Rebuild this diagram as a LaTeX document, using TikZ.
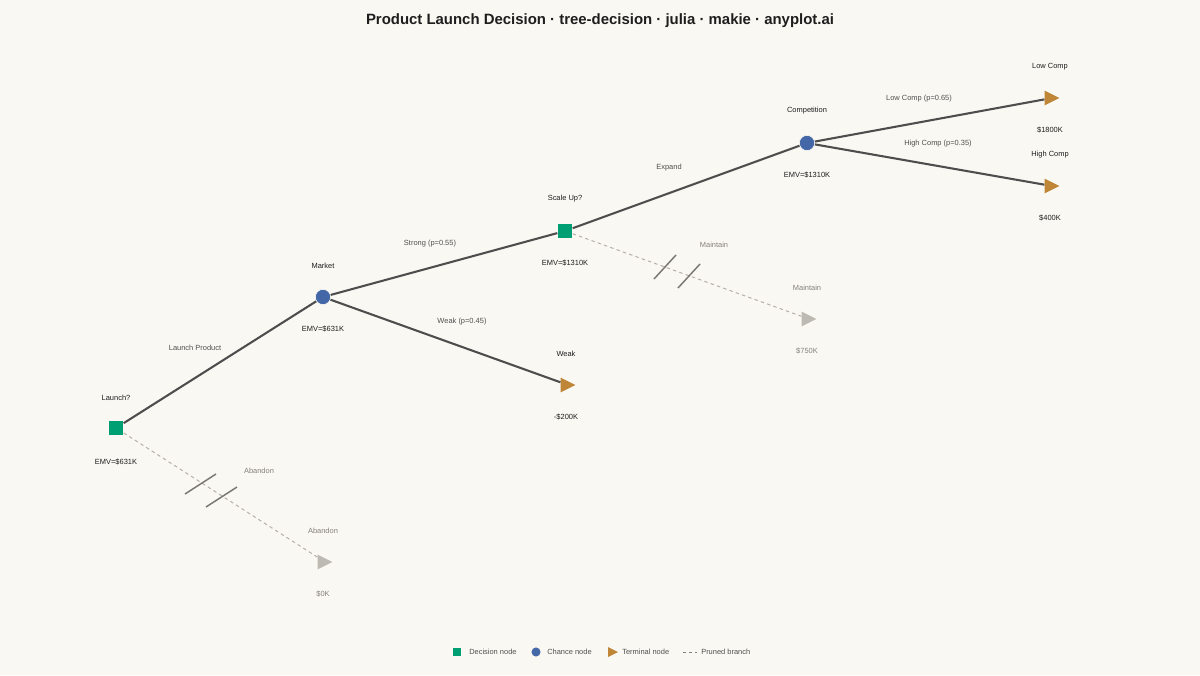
\documentclass[tikz,border=0pt]{standalone}
\usepackage{fontspec}
\setmainfont{Liberation Sans}
\usetikzlibrary{shapes.geometric}
\definecolor{bg}{HTML}{FAF8F2}
\definecolor{decg}{HTML}{009E73}
\definecolor{chb}{HTML}{4467A8}
\definecolor{term}{HTML}{BF8637}
\definecolor{edgec}{HTML}{4D4D4D}
\definecolor{prunec}{HTML}{B5B1AA}
\definecolor{prunetri}{HTML}{BDBAB3}
\definecolor{markc}{HTML}{7A7874}
\definecolor{txt}{HTML}{1E1E1E}
\definecolor{etxt}{HTML}{505050}
\definecolor{ptxt}{HTML}{85827D}
\tikzset{
  decnode/.style={rectangle, fill=decg, draw=bg, line width=0.5pt, minimum size=11, inner sep=0pt},
  chnode/.style={circle, fill=chb, draw=bg, line width=0.5pt, minimum size=11.5, inner sep=0pt},
  tri/.style={rectangle, minimum size=#1, inner sep=0pt},
  trifill/.style={path picture={\fill[#1] (path picture bounding box.north west) -- (path picture bounding box.east) -- (path picture bounding box.south west) -- cycle;}},
  termnode/.style={tri=11, trifill=term},
  prunenode/.style={tri=11, trifill=prunetri},
  lbl/.style={font=\fontsize{5.6pt}{6pt}\selectfont, text=txt, inner sep=0pt},
  elbl/.style={font=\fontsize{5.6pt}{6pt}\selectfont, text=etxt, inner sep=0pt},
  plbl/.style={font=\fontsize{5.6pt}{6pt}\selectfont, text=ptxt, inner sep=0pt},
  branch/.style={draw=edgec, line width=1.55pt},
  pruned/.style={draw=prunec, line width=0.75pt, dash pattern=on 2.6pt off 2.4pt},
  brk/.style={draw=markc, line width=1.1pt},
}
\begin{document}
\begin{tikzpicture}[x=0.75pt,y=-0.75pt]
\fill[bg] (0,0) rectangle (1200,675);
\useasboundingbox (0,0) rectangle (1200,675);
\node[font=\bfseries\fontsize{11.2pt}{13pt}\selectfont, text=txt] (title) at (600,21) {Product Launch Decision · tree-decision · julia · makie · anyplot.ai};

% nodes
\node[decnode] (launch) at (116,428) {};
\node[chnode] (market) at (323,297) {};
\node[decnode] (scale) at (565,231) {};
\node[chnode] (comp) at (807,143) {};
\node[termnode] (low) at (1052,98) {};
\node[termnode] (high) at (1052,186) {};
\node[termnode] (weak) at (568,385) {};
\node[prunenode] (maint) at (809,319) {};
\node[prunenode] (aband) at (325,562) {};

% edges
\draw[pruned] (launch) -- (aband);
\draw[pruned] (scale) -- (maint);
\draw[branch] (launch) -- (market);
\draw[branch] (market) -- (scale);
\draw[branch] (market) -- (weak);
\draw[branch] (scale) -- (comp);
\draw[branch] (comp) -- (low);
\draw[branch] (comp) -- (high);

% break marks
\coordinate (b1a) at (185,494); \coordinate (b1b) at (216,474);
\coordinate (b2a) at (206,507); \coordinate (b2b) at (237,487);
\coordinate (b3a) at (654,279); \coordinate (b3b) at (676,255);
\coordinate (b4a) at (678,288); \coordinate (b4b) at (700,264);
\draw[brk] (b1a) -- (b1b);
\draw[brk] (b2a) -- (b2b);
\draw[brk] (b3a) -- (b3b);
\draw[brk] (b4a) -- (b4b);

% node labels
\node[lbl] (l1) at (116,398) {Launch?};
\node[lbl] (l1e) at (116,462) {EMV=\$631K};
\node[lbl] (l2) at (323,266) {Market};
\node[lbl] (l2e) at (323,329) {EMV=\$631K};
\node[lbl] (l3) at (565,199) {Scale Up?};
\node[lbl] (l3e) at (565,263) {EMV=\$1310K};
\node[lbl] (l4) at (807,111) {Competition};
\node[lbl] (l4e) at (807,175) {EMV=\$1310K};
\node[lbl] (l5) at (1050,67) {Low Comp};
\node[lbl] (l5v) at (1050,130) {\$1800K};
\node[lbl] (l6) at (1050,155) {High Comp};
\node[lbl] (l6v) at (1050,218) {\$400K};
\node[lbl] (l7) at (566,354) {Weak};
\node[lbl] (l7v) at (566,417) {-\$200K};
\node[plbl] (l8) at (807,288) {Maintain};
\node[plbl] (l8v) at (807,351) {\$750K};
\node[plbl] (l9) at (323,531) {Abandon};
\node[plbl] (l9v) at (323,594) {\$0K};

% edge labels
\node[elbl] (e1) at (195,348) {Launch Product};
\node[plbl] (e2) at (259,471) {Abandon};
\node[elbl] (e3) at (430,244) {Strong (p=0.55)};
\node[elbl] (e4) at (462,322) {Weak (p=0.45)};
\node[elbl] (e5) at (669,168) {Expand};
\node[plbl] (e6) at (714,245) {Maintain};
\node[elbl] (e7) at (919,99) {Low Comp (p=0.65)};
\node[elbl] (e8) at (938,144) {High Comp (p=0.35)};

% legend
\node[rectangle, fill=decg, minimum size=5.6, inner sep=0pt] (lgd1) at (457,652) {};
\node[elbl, anchor=west] (lgt1) at (469,652) {Decision node};
\node[circle, fill=chb, minimum size=6.8, inner sep=0pt] (lgd2) at (536,652) {};
\node[elbl, anchor=west] (lgt2) at (547,652) {Chance node};
\node[tri=7.5, trifill=term] (lgd3) at (613,652) {};
\node[elbl, anchor=west] (lgt3) at (622,652) {Terminal node};
\coordinate (lgd4a) at (683,652); \coordinate (lgd4b) at (697,652);
\draw[draw=ptxt, line width=0.75pt, dash pattern=on 2.2pt off 2.4pt] (lgd4a) -- (lgd4b);
\node[elbl, anchor=west] (lgt4) at (701,652) {Pruned branch};
\end{tikzpicture}
\end{document}
